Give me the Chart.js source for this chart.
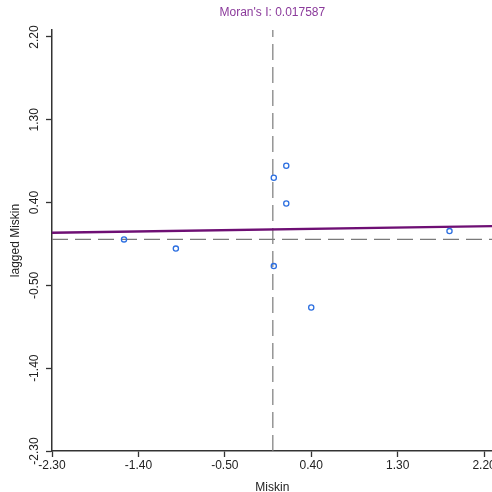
<!DOCTYPE html>
<html>
<head>
<meta charset="utf-8">
<script src="https://cdn.jsdelivr.net/npm/chart.js@4"></script>
<style>
  html,body{margin:0;padding:0;background:#fff;overflow:hidden;}
  #wrap{width:498px;height:492px;}
</style>
</head>
<body>
<div id="wrap"><canvas id="c"></canvas></div>
<script>
// values
const miskin=[-1.55,-1.01,0.01,0.14,0.14,1.84,0.01,0.40];
const laggedMiskin=[0.00,-0.10,0.67,0.80,0.39,0.09,-0.29,-0.74];
const fitX=[-2.30,2.29];
const fitY=[0.072,0.144];
const tickVals=[-2.30,-1.40,-0.50,0.40,1.30,2.20];
const meanX=0, meanY=0;
const moranI='0.017587';

const xMin=-2.30, xMax=2.29, yMin=-2.30, yMax=2.276;

const titlePlugin={
  id:'ttl',
  afterDraw(chart){
    const {ctx,chartArea}=chart;
    ctx.save();
    ctx.fillStyle='#8b3a9b';ctx.font='12px "Liberation Sans", Arial, sans-serif';
    ctx.textAlign='center';ctx.textBaseline='middle';
    ctx.fillText("Moran's I: "+moranI,(chartArea.left+chartArea.right)/2,13);
    ctx.restore();
  }
};

const fixTicks=scale=>{scale.ticks=tickVals.map(v=>({value:v}));};
const tickFont={family:'"Liberation Sans", Arial, sans-serif',size:12};

new Chart(document.getElementById('c'),{
  type:'scatter',
  data:{datasets:[
    {type:'line',data:[{x:meanX,y:yMin},{x:meanX,y:yMax}],borderColor:'#7a7a7a',borderWidth:1.2,borderDash:[16,7],pointRadius:0,order:3},
    {type:'line',data:[{x:xMin,y:meanY},{x:xMax,y:meanY}],borderColor:'#7a7a7a',borderWidth:1.2,borderDash:[16,7],pointRadius:0,order:3},
    {type:'line',data:fitX.map((x,i)=>({x,y:fitY[i]})),borderColor:'#6e0f74',borderWidth:2.4,pointRadius:0,order:2},
    {data:miskin.map((x,i)=>({x,y:laggedMiskin[i]})),pointRadius:2.6,pointBorderWidth:1.3,pointBorderColor:'#2d6fe0',pointBackgroundColor:'rgba(0,0,0,0)',order:1}
  ]},
  options:{
    responsive:true,maintainAspectRatio:false,animation:false,
    layout:{padding:{top:30,right:0,bottom:0,left:0}},
    plugins:{legend:{display:false},tooltip:{enabled:false}},
    scales:{
      x:{type:'linear',min:xMin,max:xMax,afterBuildTicks:fixTicks,
        afterFit(s){s.height=41;},
        grid:{drawOnChartArea:false,tickLength:6,tickColor:'#333',tickWidth:1.3},
        border:{color:'#333',width:1.5},
        ticks:{color:'#222',font:tickFont,padding:1,maxRotation:0,callback:v=>v.toFixed(2)},
        title:{display:true,text:'Miskin',color:'#222',font:tickFont,padding:{top:-3,bottom:-3}}
      },
      y:{type:'linear',min:yMin,max:yMax,afterBuildTicks:fixTicks,
        afterFit(s){s.width=52;},
        grid:{drawOnChartArea:false,tickLength:6,tickColor:'#333',tickWidth:1.3},
        border:{color:'#333',width:1.5},
        ticks:{color:'#222',font:tickFont,padding:-2,minRotation:90,maxRotation:90,crossAlign:'center',callback:v=>v.toFixed(2)},
        title:{display:true,text:'lagged Miskin',color:'#222',font:tickFont,padding:{top:8,bottom:0}}
      }
    }
  },
  plugins:[titlePlugin]
});
</script>
</body>
</html>
